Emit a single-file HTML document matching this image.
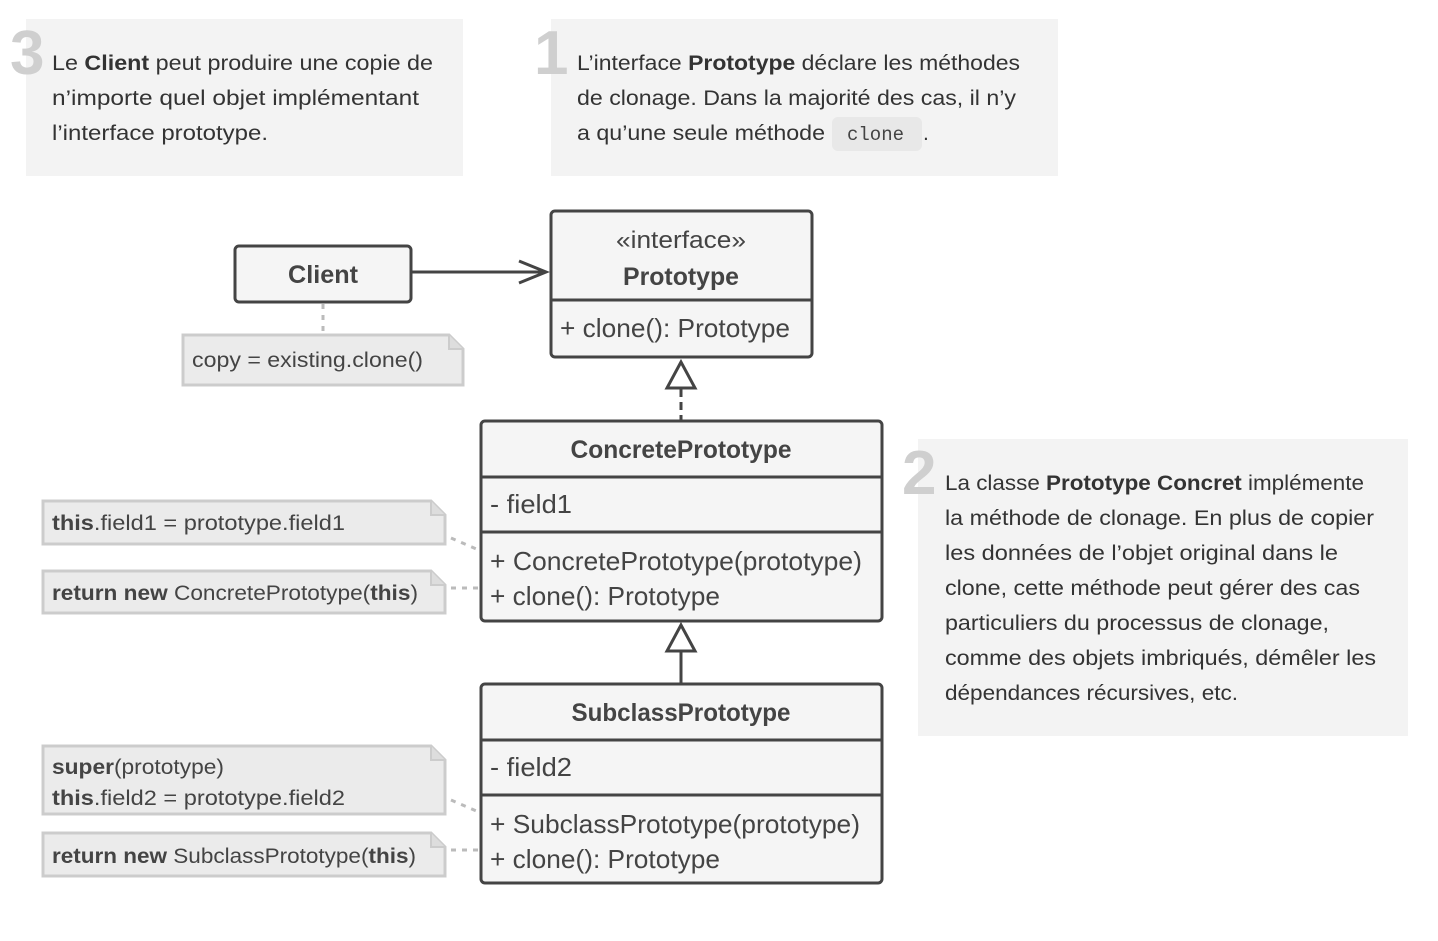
<!DOCTYPE html>
<html><head><meta charset="utf-8"><style>
body{margin:0;background:#fff}
svg{display:block;font-family:"Liberation Sans",sans-serif}
</style></head><body>
<svg width="1438" height="941" viewBox="0 0 1438 941" xmlns="http://www.w3.org/2000/svg">
<defs><style>
.t{font-size:21px;fill:#333}
.m{font-size:26px;fill:#444}
.n{font-size:21px;fill:#444}
.big{font-size:62px;font-weight:bold;fill:#cfcfcf}
b,.b{font-weight:bold}
</style></defs>
<!-- cards -->
<rect x="26" y="19" width="437" height="157" fill="#f3f3f3"/>
<rect x="551" y="19" width="507" height="157" fill="#f3f3f3"/>
<rect x="918" y="439" width="490" height="297" fill="#f3f3f3"/>
<text x="10" y="74" class="big">3</text>
<text x="534" y="74" class="big">1</text>
<text x="902" y="494" class="big">2</text>
<g class="t">
<text x="52" y="70" textLength="381" lengthAdjust="spacingAndGlyphs">Le <tspan class="b">Client</tspan> peut produire une copie de</text>
<text x="52" y="105" textLength="367" lengthAdjust="spacingAndGlyphs">n’importe quel objet implémentant</text>
<text x="52" y="140" textLength="216" lengthAdjust="spacingAndGlyphs">l’interface prototype.</text>
<text x="577" y="70" textLength="443" lengthAdjust="spacingAndGlyphs">L’interface <tspan class="b">Prototype</tspan> déclare les méthodes</text>
<text x="577" y="105" textLength="439" lengthAdjust="spacingAndGlyphs">de clonage. Dans la majorité des cas, il n’y</text>
<text x="577" y="140" textLength="248" lengthAdjust="spacingAndGlyphs">a qu’une seule méthode</text>
<text x="945" y="490" textLength="419" lengthAdjust="spacingAndGlyphs">La classe <tspan class="b">Prototype Concret</tspan> implémente</text>
<text x="945" y="525" textLength="429" lengthAdjust="spacingAndGlyphs">la méthode de clonage. En plus de copier</text>
<text x="945" y="560" textLength="393" lengthAdjust="spacingAndGlyphs">les données de l’objet original dans le</text>
<text x="945" y="595" textLength="415" lengthAdjust="spacingAndGlyphs">clone, cette méthode peut gérer des cas</text>
<text x="945" y="630" textLength="384" lengthAdjust="spacingAndGlyphs">particuliers du processus de clonage,</text>
<text x="945" y="665" textLength="431" lengthAdjust="spacingAndGlyphs">comme des objets imbriqués, démêler les</text>
<text x="945" y="700" textLength="293" lengthAdjust="spacingAndGlyphs">dépendances récursives, etc.</text>
</g>
<rect x="832" y="117" width="90" height="34" rx="6" fill="#e8e8e8"/>
<text x="847" y="140" font-family="Liberation Mono,monospace" font-size="19" fill="#444">clone</text>
<text x="923" y="140" class="t">.</text>

<!-- connectors -->
<g stroke="#444" stroke-width="3" fill="none">
<line x1="411" y1="272" x2="546" y2="272"/>
<polyline points="519,261 546,272 519,283"/>
<line x1="681" y1="389" x2="681" y2="421" stroke-dasharray="8,5"/>
<polygon points="681,362 667,388 695,388" fill="#fff"/>
<line x1="681" y1="651" x2="681" y2="684"/>
<polygon points="681,625 667,651 695,651" fill="#fff"/>
</g>
<g stroke="#bbb" stroke-width="3" stroke-dasharray="5,6" fill="none">
<line x1="323" y1="304" x2="323" y2="334"/>
<line x1="451" y1="538" x2="481" y2="551"/>
<line x1="451" y1="588" x2="481" y2="588"/>
<line x1="451" y1="800" x2="481" y2="813"/>
<line x1="451" y1="850" x2="481" y2="850"/>
</g>

<!-- notes -->
<g fill="#ebebeb" stroke="#cccccc" stroke-width="3">
<path d="M183,335 H449 L463,349 V385 H183 Z"/>
<path d="M43,501 H431 L445,515 V544 H43 Z"/>
<path d="M43,571 H431 L445,585 V613 H43 Z"/>
<path d="M43,746 H431 L445,760 V814 H43 Z"/>
<path d="M43,833 H431 L445,847 V876 H43 Z"/>
</g>
<g fill="#ddd" stroke="#ccc" stroke-width="2">
<path d="M449,335 V349 H463"/><path d="M431,501 V515 H445"/><path d="M431,571 V585 H445"/><path d="M431,746 V760 H445"/><path d="M431,833 V847 H445"/>
</g>
<g class="n">
<text x="192" y="367" textLength="231" lengthAdjust="spacingAndGlyphs">copy = existing.clone()</text>
<text x="52" y="530" textLength="293" lengthAdjust="spacingAndGlyphs"><tspan class="b">this</tspan>.field1 = prototype.field1</text>
<text x="52" y="600" textLength="366" lengthAdjust="spacingAndGlyphs"><tspan class="b">return new</tspan> ConcretePrototype(<tspan class="b">this</tspan>)</text>
<text x="52" y="774" textLength="172" lengthAdjust="spacingAndGlyphs"><tspan class="b">super</tspan>(prototype)</text>
<text x="52" y="805" textLength="293" lengthAdjust="spacingAndGlyphs"><tspan class="b">this</tspan>.field2 = prototype.field2</text>
<text x="52" y="863" textLength="364" lengthAdjust="spacingAndGlyphs"><tspan class="b">return new</tspan> SubclassPrototype(<tspan class="b">this</tspan>)</text>
</g>

<!-- boxes -->
<g fill="#f5f5f5" stroke="#444" stroke-width="3">
<rect x="235" y="246" width="176" height="56" rx="4"/>
<rect x="551" y="211" width="261" height="146" rx="4"/>
<rect x="481" y="421" width="401" height="200" rx="4"/>
<rect x="481" y="684" width="401" height="199" rx="4"/>
</g>
<g stroke="#444" stroke-width="3">
<line x1="551" y1="300" x2="812" y2="300"/>
<line x1="481" y1="477" x2="882" y2="477"/>
<line x1="481" y1="532" x2="882" y2="532"/>
<line x1="481" y1="740" x2="882" y2="740"/>
<line x1="481" y1="795" x2="882" y2="795"/>
</g>
<g class="m">
<text x="323" y="283" text-anchor="middle" class="b" font-size="25" textLength="70" lengthAdjust="spacingAndGlyphs">Client</text>
<text x="681" y="248" text-anchor="middle" font-size="24" textLength="130" lengthAdjust="spacingAndGlyphs">«interface»</text>
<text x="681" y="285" text-anchor="middle" class="b" font-size="25" textLength="116" lengthAdjust="spacingAndGlyphs">Prototype</text>
<text x="560" y="337" textLength="230" lengthAdjust="spacingAndGlyphs">+ clone(): Prototype</text>
<text x="681" y="458" text-anchor="middle" class="b" font-size="25" textLength="221" lengthAdjust="spacingAndGlyphs">ConcretePrototype</text>
<text x="490" y="513" textLength="82" lengthAdjust="spacingAndGlyphs">- field1</text>
<text x="490" y="570" textLength="372" lengthAdjust="spacingAndGlyphs">+ ConcretePrototype(prototype)</text>
<text x="490" y="605" textLength="230" lengthAdjust="spacingAndGlyphs">+ clone(): Prototype</text>
<text x="681" y="721" text-anchor="middle" class="b" font-size="25" textLength="219" lengthAdjust="spacingAndGlyphs">SubclassPrototype</text>
<text x="490" y="776" textLength="82" lengthAdjust="spacingAndGlyphs">- field2</text>
<text x="490" y="833" textLength="370" lengthAdjust="spacingAndGlyphs">+ SubclassPrototype(prototype)</text>
<text x="490" y="868" textLength="230" lengthAdjust="spacingAndGlyphs">+ clone(): Prototype</text>
</g>
</svg>
</body></html>
